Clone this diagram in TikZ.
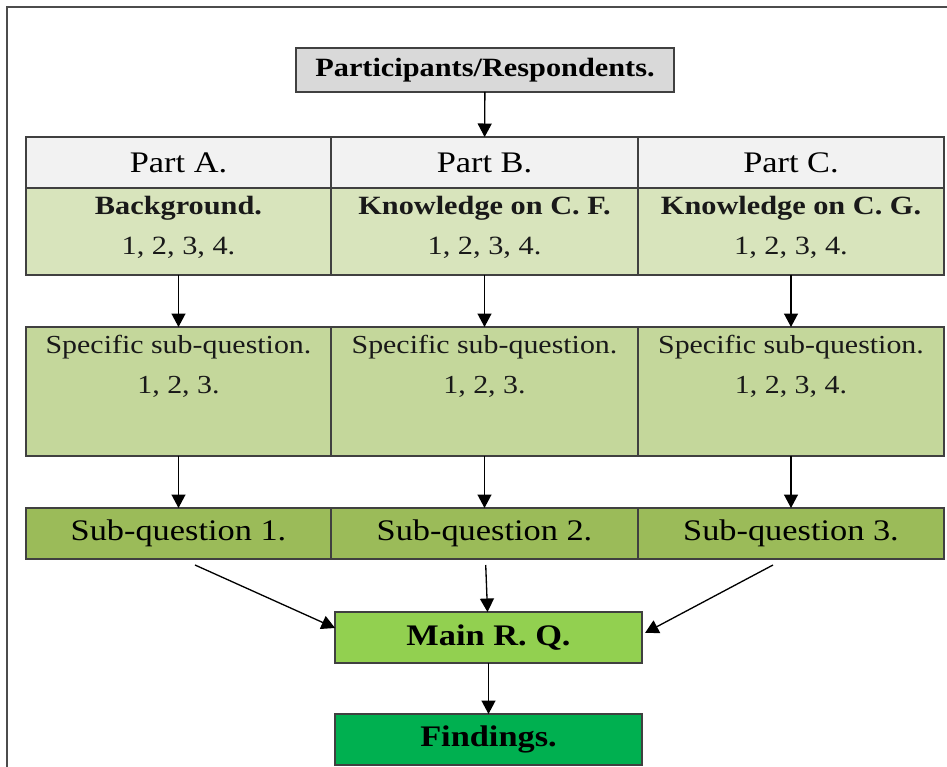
\documentclass[tikz,border=0pt]{standalone}
\usepackage{fontspec}
\setmainfont{Liberation Serif}[FakeStretch=1.15]
\usepackage{xcolor}
\usetikzlibrary{arrows.meta}
\usetikzlibrary{positioning}
\definecolor{hdrgray}{HTML}{D9D9D9}
\definecolor{partgray}{HTML}{F2F2F2}
\definecolor{topicgreen}{HTML}{D8E4BC}
\definecolor{specgreen}{HTML}{C4D79B}
\definecolor{subqgreen}{HTML}{9BBB59}
\definecolor{maingreen}{HTML}{92D050}
\definecolor{findgreen}{HTML}{00B050}

\begin{document}
\begin{tikzpicture}[x=0.02cm,y=-0.02cm]
\tikzstyle{cell}=[draw=black!75,line width=0.7pt,inner sep=0pt,outer sep=0pt]
\tikzstyle{txt}=[inner sep=0pt,align=center,text=black!90]
\tikzstyle{arr}=[draw=black,line width=0.75pt,-{Triangle[length=0.27cm,width=0.28cm]}]
\useasboundingbox (0,0) rectangle (947,767);
\draw[line width=1.1pt,black!70] (7,767) -- (7,7) -- (947,7);

\node[cell,fill=hdrgray,minimum width=7.56cm,minimum height=0.88cm,font=\bfseries\fontsize{15}{17}\selectfont] (resp) at (485,70) {Participants/Respondents.};

% the three columns
\foreach \c/\cx/\w/\n/\topic/\nums in {A/178.5/6.1/1/{Background.}/{1, 2, 3.},B/484.5/6.14/2/{Knowledge on C. F.}/{1, 2, 3.},C/791/6.12/3/{Knowledge on C. G.}/{1, 2, 3, 4.}}{
  \node[cell,fill=partgray,minimum width=\w cm,minimum height=1.02cm,font=\fontsize{17}{20}\selectfont] (p\c) at (\cx,162.5) {Part \c.};
  \node[cell,fill=topicgreen,minimum width=\w cm,minimum height=1.74cm] (t\c) at (\cx,231.5) {};
  \node[txt,below=0.15cm of t\c.north,font=\fontsize{15}{23}\selectfont] (tt\c) {\textbf{\topic}\\1, 2, 3, 4.};
  \node[cell,fill=specgreen,minimum width=\w cm,minimum height=2.58cm] (s\c) at (\cx,391.5) {};
  \node[txt,below=0.15cm of s\c.north,font=\fontsize{14.8}{22.7}\selectfont] (st\c) {Specific sub-question.\\\nums};
  \node[cell,fill=subqgreen,minimum width=\w cm,minimum height=1.02cm,font=\fontsize{17}{20}\selectfont] (q\c) at (\cx,533.5) {Sub-question \n.};
  \draw[arr] (t\c) -- (s\c);
  \draw[arr] (s\c) -- (q\c);
}

\node[cell,fill=maingreen,minimum width=6.14cm,minimum height=1.02cm,font=\bfseries\fontsize{17}{20}\selectfont] (rq) at (488.5,637.5) {Main R. Q.};
\node[cell,fill=findgreen,minimum width=6.14cm,minimum height=1.02cm,font=\bfseries\fontsize{17}{20}\selectfont] (find) at (488.5,739.5) {Findings.};

\draw[arr] (resp) -- (pB);
\draw[arr] ([xshift=0.33cm,yshift=-0.12cm]qA.south) -- ([yshift=0.19cm]rq.west);
\draw[arr,shorten <=0.12cm] (qB) -- (rq);
\draw[arr] ([xshift=-0.36cm,yshift=-0.12cm]qC.south) -- ([xshift=0.06cm,yshift=0.09cm]rq.east);
\draw[arr] (rq) -- (find);
\end{tikzpicture}
\end{document}
